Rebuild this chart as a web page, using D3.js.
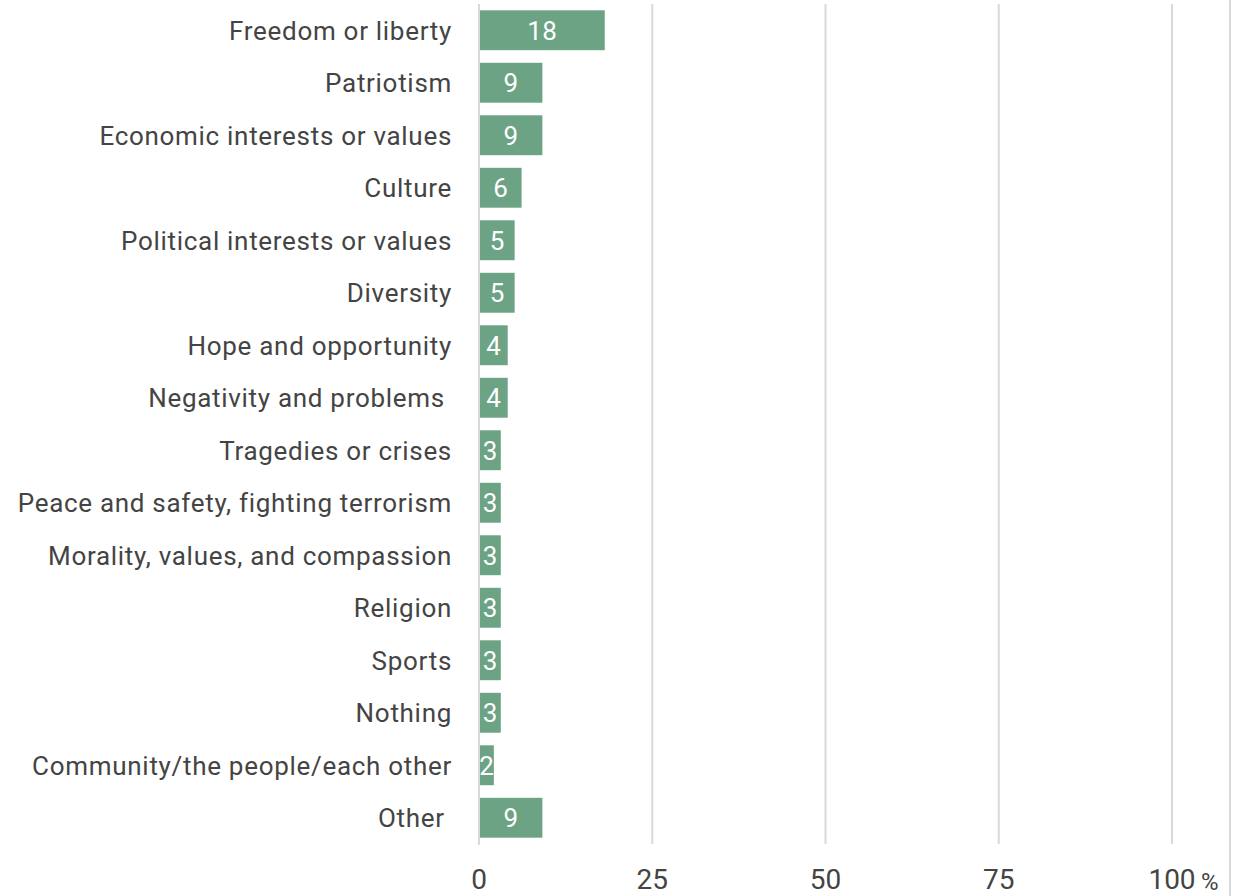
<!DOCTYPE html>
<html><head><meta charset="utf-8">
<script src="https://cdn.jsdelivr.net/npm/d3@7"></script>
<style>body{margin:0;background:#fff;} svg{display:block;font-family:Roboto,"Noto Sans",sans-serif;}</style>
</head><body><svg id="c" width="1233" height="896"></svg>
<script>
const categories = ["Freedom or liberty","Patriotism","Economic interests or values","Culture","Political interests or values","Diversity","Hope and opportunity","Negativity and problems ","Tragedies or crises","Peace and safety, fighting terrorism","Morality, values, and compassion","Religion","Sports","Nothing","Community/the people/each other","Other "];
const values = [18,9,9,6,5,5,4,4,3,3,3,3,3,3,2,9];
const tickValues = [0,25,50,75,100];

const svg = d3.select("#c");
const x = d3.scaleLinear().domain([0,100]).range([479,1172]);
const y = d3.scaleBand().domain(categories).range([4,844]).paddingInner(0.24).paddingOuter(0.12);

svg.append("g").selectAll("line").data(tickValues.slice(1)).join("line")
  .attr("x1", d=>x(d)).attr("x2", d=>x(d)).attr("y1",4).attr("y2",844)
  .attr("stroke","#d9d9d9").attr("stroke-width",2);
svg.append("line").attr("x1",1230).attr("x2",1230).attr("y1",0).attr("y2",896).attr("stroke","#d9d9d9").attr("stroke-width",2);

svg.append("g").selectAll("rect").data(values).join("rect")
  .attr("x", x(0)+1).attr("y",(d,i)=>y(categories[i]))
  .attr("width", d=>x(d)-x(0)).attr("height", y.bandwidth())
  .attr("fill","#6ca385");

svg.append("line").attr("x1",x(0)).attr("x2",x(0)).attr("y1",4).attr("y2",845).attr("stroke","#d9d9d9").attr("stroke-width",2);

svg.append("g").selectAll("text").data(values).join("text")
  .attr("x", d=>(x(0)+x(d))/2+1).attr("y",(d,i)=>y(categories[i])+y.bandwidth()/2)
  .attr("dy","0.36em").attr("text-anchor","middle").attr("fill","#fff").attr("font-size",26)
  .style("letter-spacing","0.5px")
  .text(d=>d);

svg.append("g").selectAll("text").data(categories).join("text")
  .attr("x",452).attr("y",d=>y(d)+y.bandwidth()/2).attr("dy","0.36em")
  .attr("text-anchor","end").attr("fill","#444").attr("font-size",26)
  .style("letter-spacing","0.7px").style("white-space","pre").text(d=>d);

svg.append("g").selectAll("text").data(tickValues).join("text")
  .attr("x",d=>x(d)).attr("y",889).attr("text-anchor","middle").attr("fill","#444").attr("font-size",28)
  .text(d=>d);
svg.append("text").attr("x",1201).attr("y",890).attr("fill","#444").attr("font-size",24).text("%");
</script></body></html>
